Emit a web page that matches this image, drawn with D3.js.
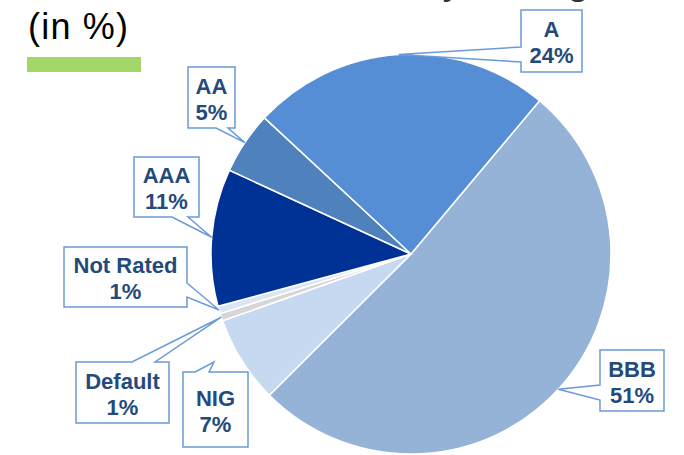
<!DOCTYPE html>
<html>
<head>
<meta charset="utf-8">
<script src="https://cdn.jsdelivr.net/npm/d3@7"></script>
<style>
  body { margin: 0; background: #fff; }
  svg { display: block; }
</style>
</head>
<body>
<svg id="chart"></svg>
<script>
// ratings, clockwise from the A/BBB boundary
const ratings = ["BBB", "NIG", "Default", "Not Rated", "AAA", "AA", "A"];
const shares  = [51, 7, 0.6, 0.6, 11, 5, 24];
const sliceColors = ["#95B3D7", "#C6D9F1", "#D6D6D6", "#DCE6F2", "#003296", "#4F81BD", "#558ED5"];

// callout boxes: [x0, y0, x1, y1], side the pointer leaves from, pointer base
const callouts = {
  "BBB":       { box: [600, 350, 664, 411], side: "left",   base: [385, 400] },
  "NIG":       { box: [183, 372, 248, 447], side: "top",    base: [195, 209], tip: [214, 362] },
  "Default":   { box: [76, 362, 169, 423],  side: "top",    base: [132, 155] },
  "Not Rated": { box: [64, 247, 187, 307],  side: "right",  base: [283, 297] },
  "AAA":       { box: [134, 157, 199, 217], side: "bottom", base: [172, 188] },
  "AA":        { box: [188, 67, 235, 128],  side: "bottom", base: [216, 228] },
  "A":         { box: [521, 10, 582, 72],   side: "left",   base: [47, 62] }
};

const W = 684, H = 455;
const cx = 411, cy = 254, R = 200;

const svg = d3.select("#chart").attr("width", W).attr("height", H);

// heading sits above the frame, only its descenders show (as in the source)
svg.append("text")
  .attr("x", 209).attr("y", -6)
  .attr("font-family", "Liberation Sans, Arial, sans-serif")
  .attr("font-size", 40)
  .attr("fill", "#333")
  .text("Distribution by Rating");

svg.append("text")
  .attr("x", 28).attr("y", 39)
  .attr("font-family", "Liberation Sans, Arial, sans-serif")
  .attr("font-size", 36)
  .attr("textLength", 100)
  .attr("fill", "#000")
  .text("(in %)");

svg.append("rect")
  .attr("x", 27).attr("y", 57).attr("width", 114).attr("height", 15)
  .attr("fill", "#A3D869");

const rows = ratings.map((r, i) => ({ rating: r, value: shares[i], color: sliceColors[i] }));
const total = d3.sum(shares);

const start = 40 * Math.PI / 180;
const pie = d3.pie().sort(null).value(d => d.value)
  .startAngle(start).endAngle(start + 2 * Math.PI);
const arc = d3.arc().innerRadius(0).outerRadius(R);

const g = svg.append("g").attr("transform", `translate(${cx},${cy})`);
const arcs = pie(rows);

g.selectAll(".slice")
  .data(arcs)
  .join("path")
  .attr("class", "slice")
  .attr("d", arc)
  .attr("fill", d => d.data.color)
  .attr("stroke", "#fff")
  .attr("stroke-width", 1.5);

// point on the rim at the middle of a slice
function rimPoint(d) {
  const a = (d.startAngle + d.endAngle) / 2;
  return [cx + R * Math.sin(a), cy - R * Math.cos(a)];
}

function calloutPath(c, tip) {
  const [x0, y0, x1, y1] = c.box, [b1, b2] = c.base;
  let pts;
  if (c.side === "left")
    pts = [[x0, y0], [x1, y0], [x1, y1], [x0, y1], [x0, b2], tip, [x0, b1]];
  else if (c.side === "right")
    pts = [[x0, y0], [x1, y0], [x1, b1], tip, [x1, b2], [x1, y1], [x0, y1]];
  else if (c.side === "top")
    pts = [[x0, y0], [b1, y0], tip, [b2, y0], [x1, y0], [x1, y1], [x0, y1]];
  else
    pts = [[x0, y0], [x1, y0], [x1, y1], [b2, y1], tip, [b1, y1], [x0, y1]];
  return "M" + pts.map(p => p.join(",")).join("L") + "Z";
}

const labels = svg.selectAll(".callout")
  .data(arcs)
  .join("g")
  .attr("class", "callout");

labels.append("path")
  .attr("d", d => {
    const c = callouts[d.data.rating];
    return calloutPath(c, c.tip || rimPoint(d));
  })
  .attr("fill", "#fff")
  .attr("stroke", "#6A9AD9")
  .attr("stroke-width", 1.5)
  .attr("stroke-linejoin", "miter");

const fmt = v => Math.round(v / total * 100) + "%";

labels.each(function(d) {
  const c = callouts[d.data.rating];
  const [x0, y0, x1, y1] = c.box;
  const mx = (x0 + x1) / 2, my = (y0 + y1) / 2;
  const t = d3.select(this).append("text")
    .attr("text-anchor", "middle")
    .attr("font-family", "Liberation Sans, Arial, sans-serif")
    .attr("font-weight", "bold")
    .attr("font-size", 22)
    .attr("fill", "#244A7C");
  t.append("tspan").attr("x", mx).attr("y", my - 4).text(d.data.rating);
  t.append("tspan").attr("x", mx).attr("y", my + 22).text(fmt(d.data.value));
});
</script>
</body>
</html>
